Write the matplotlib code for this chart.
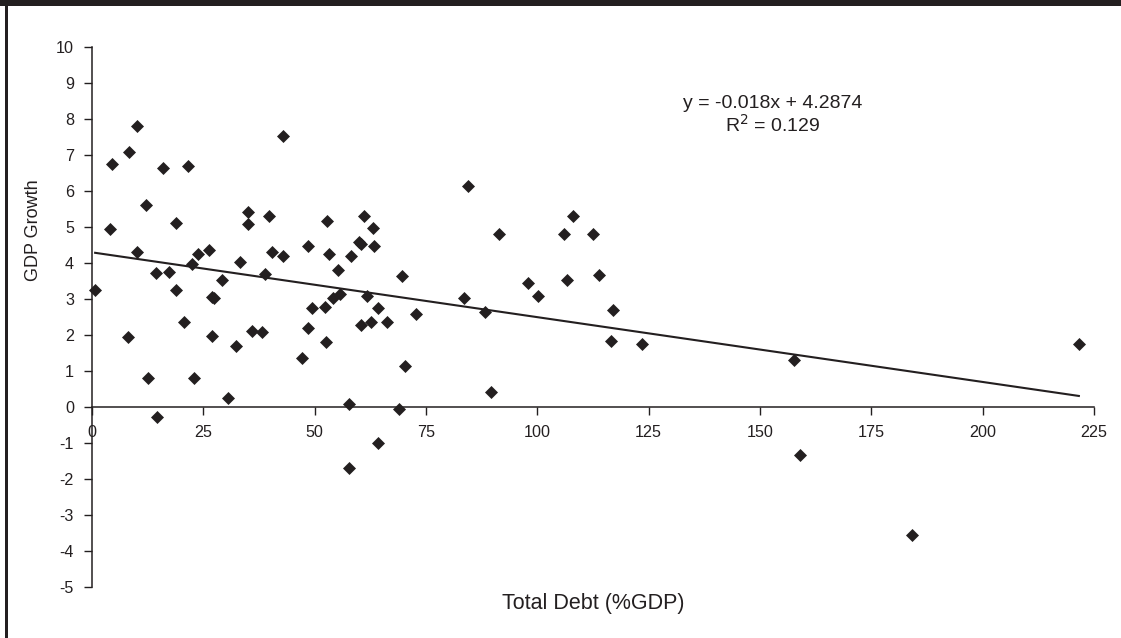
import matplotlib
matplotlib.use("Agg")
import matplotlib.pyplot as plt
from matplotlib.patches import Rectangle
import numpy as np

plt.rcParams["font.family"] = ["Liberation Sans", "DejaVu Sans"]

# Data
total_debt = [0.7, 4.6, 4.1, 8.2, 10.2, 10.1, 12.1, 14.4, 16.0, 17.4, 18.9, 18.9,
              21.5, 20.7, 22.5, 23.7, 26.2, 26.9, 27.5, 29.2, 33.3, 35.0, 35.0, 39.7,
              40.4, 43.0, 43.0, 38.9, 48.6, 52.8, 53.3, 55.2, 58.2, 61.1, 63.0, 60.0,
              60.4, 63.4, 61.7, 64.2, 55.8, 54.1, 52.3, 49.5, 48.6, 60.4, 62.6, 8.0,
              12.6, 14.5, 22.9, 26.9, 32.3, 30.5, 35.9, 38.2, 47.1, 52.5, 57.6, 57.7,
              64.2, 69.7, 66.3, 72.8, 84.4, 91.5, 83.6, 88.3, 98.0, 100.2, 106.0, 107.9,
              112.4, 106.6, 113.8, 70.2, 89.6, 68.9, 117.1, 116.6, 123.5, 157.7, 221.6,
              184.2, 159.0]
gdp_growth = [3.24, 6.74, 4.95, 7.07, 7.79, 4.29, 5.60, 3.72, 6.62, 3.73, 5.10, 3.23,
              6.68, 2.34, 3.96, 4.23, 4.35, 3.06, 3.01, 3.51, 4.02, 5.41, 5.07, 5.29,
              4.30, 7.52, 4.18, 3.68, 4.46, 5.17, 4.23, 3.80, 4.19, 5.30, 4.96, 4.58,
              4.52, 4.46, 3.08, 2.73, 3.12, 3.01, 2.78, 2.73, 2.18, 2.27, 2.35, 1.93,
              0.79, -0.28, 0.79, 1.96, 1.69, 0.23, 2.11, 2.07, 1.34, 1.79, 0.07, -1.71,
              -1.00, 3.63, 2.34, 2.57, 6.12, 4.80, 3.01, 2.62, 3.45, 3.07, 4.80, 5.29,
              4.80, 3.51, 3.67, 1.13, 0.40, -0.05, 2.70, 1.83, 1.73, 1.30, 1.73,
              -3.56, -1.34]
trend_slope = -0.018
trend_intercept = 4.2874
x_ticks = [0, 25, 50, 75, 100, 125, 150, 175, 200, 225]
y_ticks = [-5, -4, -3, -2, -1, 0, 1, 2, 3, 4, 5, 6, 7, 8, 9, 10]
eq_text = "y = -0.018x + 4.2874"
r2_text = "R$^2$ = 0.129"

W, H = 1121, 638
fig = plt.figure(figsize=(W / 100, H / 100), dpi=100)
fig.patch.set_facecolor("white")
ink = "#231f20"

# Frame: top band and left rule
fig.patches.append(Rectangle((0, 1 - 6 / H), 1, 6 / H, transform=fig.transFigure,
                             facecolor=ink, edgecolor="none", zorder=0))
fig.patches.append(Rectangle((5 / W, 0), 2.5 / W, 1, transform=fig.transFigure,
                             facecolor=ink, edgecolor="none", zorder=0))

left, right = 92 / W, 1094 / W
bottom, top = 1 - 586.7 / H, 1 - 46.7 / H
ax = fig.add_axes([left, bottom, right - left, top - bottom])
ax.set_xlim(0, 225)
ax.set_ylim(-5, 10)

ax.spines["top"].set_visible(False)
ax.spines["right"].set_visible(False)
ax.spines["bottom"].set_position(("data", 0))
for s in ("left", "bottom"):
    ax.spines[s].set_color(ink)
    ax.spines[s].set_linewidth(1.1)

ax.set_xticks(x_ticks)
ax.set_yticks(y_ticks)
ax.set_yticklabels([str(v) for v in y_ticks])
ax.set_xticklabels([str(v) for v in x_ticks])
ax.tick_params(axis="both", direction="out", length=6, width=1.0, color=ink,
               labelsize=11.6, labelcolor=ink)
ax.tick_params(axis="y", pad=7)
ax.tick_params(axis="x", pad=7)

ax.scatter(total_debt, gdp_growth, marker="D", s=44, color=ink, linewidths=0,
           zorder=3, clip_on=False)

xs = np.array([min(total_debt), max(total_debt)])
ax.plot(xs, trend_slope * xs + trend_intercept, color=ink, linewidth=1.5, zorder=2)

fig.text(773 / W, 1 - 103 / H, eq_text, ha="center", va="center", fontsize=14, color=ink)
fig.text(773 / W, 1 - 125 / H, r2_text, ha="center", va="center", fontsize=14, color=ink)

fig.text(593 / W, 1 - 604 / H, "Total Debt (%GDP)", ha="center", va="center",
         fontsize=15.5, color=ink)
fig.text(33 / W, 1 - 230 / H, "GDP Growth", ha="center", va="center",
         rotation=90, fontsize=13, color=ink)

fig.savefig("out.png", dpi=100, facecolor="white")
